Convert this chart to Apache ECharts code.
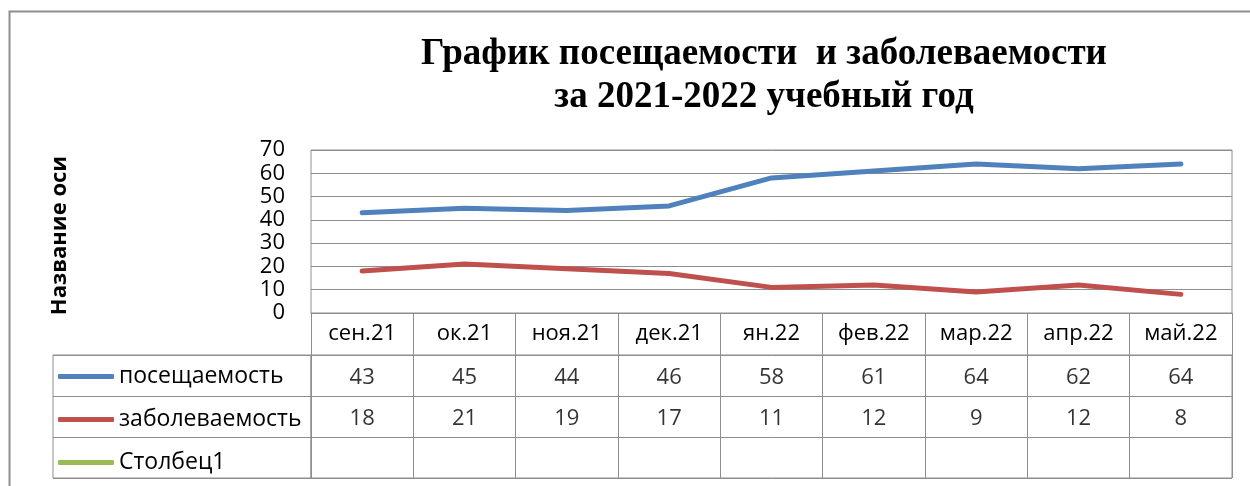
<!DOCTYPE html>
<html>
<head>
<meta charset="utf-8">
<script src="https://cdn.jsdelivr.net/npm/echarts@6/dist/echarts.min.js"></script>
<style>
  html, body { margin: 0; padding: 0; background: #fff; }
  #chart { width: 1250px; height: 486px; }
</style>
</head>
<body>
<div id="chart"></div>
<script>
// данные графика
const months = ['сен.21', 'ок.21', 'ноя.21', 'дек.21', 'ян.22', 'фев.22', 'мар.22', 'апр.22', 'май.22']
const attendance = [43, 45, 44, 46, 58, 61, 64, 62, 64]
const illness = [18, 21, 19, 17, 11, 12, 9, 12, 8]
const column1 = [null, null, null, null, null, null, null, null, null]
const seriesNames = ['посещаемость', 'заболеваемость', 'Столбец1']
const seriesColors = ['#4F81BD', '#C0504D', '#9BBB59']

const gridColor = '#8e8e8e'
const font = 'Open Sans'
const fs = 22

let chart = echarts.init(document.getElementById('chart'))

// ячейки таблицы данных
let cells = []
;[attendance, illness, column1].forEach((row, r) => {
    row.forEach((v, i) => {
        if (v !== null) cells.push([i, r, v])
    })
})

let lineSeries = [attendance, illness, column1].map((row, r) => ({
    name: seriesNames[r],
    type: 'line',
    xAxisIndex: 0,
    yAxisIndex: 0,
    data: row,
    symbol: 'none',
    color: seriesColors[r],
    lineStyle: { width: 5, color: seriesColors[r], cap: 'round', join: 'round' },
}))

let option = {
    animation: false,
    backgroundColor: '#fff',
    textStyle: { fontFamily: font },
    title: {
        text: 'График посещаемости  и заболеваемости\nза 2021-2022 учебный год',
        left: 759,
        top: 28,
        textAlign: 'center',
        textStyle: {
            fontFamily: 'Liberation Serif',
            fontWeight: 'bold',
            fontSize: 37,
            lineHeight: 43,
            color: '#000',
        },
    },
    graphic: [{
        type: 'rect',
        shape: { x: 9.5, y: 11.5, width: 1400, height: 600 },
        style: { fill: 'none', stroke: gridColor, lineWidth: 2 },
        silent: true,
    }],
    legend: {
        orient: 'vertical',
        left: 58,
        top: 365,
        height: 120,
        padding: 0,
        icon: 'roundRect',
        itemWidth: 56,
        itemHeight: 5,
        itemGap: 20,
        data: seriesNames,
        textStyle: { fontFamily: font, fontSize: 23, color: '#000', lineHeight: 20 },
    },
    grid: [
        { left: 311, top: 150, right: 18, height: 163, show: true, borderColor: gridColor, borderWidth: 1 },
        { left: 53, top: 355, width: 258, height: 123, show: true, borderColor: gridColor, borderWidth: 1 },
        { left: 311, top: 355, right: 18, height: 123, show: true, borderColor: gridColor, borderWidth: 1 },
    ],
    xAxis: [
        {
            gridIndex: 0,
            type: 'category',
            data: months,
            boundaryGap: true,
            axisLine: { lineStyle: { color: gridColor } },
            axisTick: { show: true, length: 42, interval: 0, lineStyle: { color: gridColor } },
            axisLabel: { interval: 0, margin: 10, fontSize: fs, color: '#000' },
        },
        { gridIndex: 1, type: 'value', show: false },
        {
            gridIndex: 2,
            type: 'category',
            data: months,
            boundaryGap: true,
            axisLine: { show: false },
            axisTick: { show: false },
            axisLabel: { show: false },
            splitLine: { show: true, interval: 0, lineStyle: { color: gridColor } },
        },
    ],
    yAxis: [
        {
            gridIndex: 0,
            type: 'value',
            min: 0,
            max: 70,
            interval: 10,
            name: 'Название оси',
            nameLocation: 'middle',
            nameGap: 240,
            nameRotate: 90,
            nameTextStyle: { fontFamily: font, fontWeight: 'bold', fontSize: fs, color: '#000', padding: [0, 8, 0, 0] },
            axisLine: { show: false },
            axisTick: { show: false },
            axisLabel: { margin: 26, fontSize: fs, color: '#000', lineHeight: 20 },
            splitLine: { lineStyle: { color: gridColor, width: 1 } },
        },
        {
            gridIndex: 1,
            type: 'category',
            data: seriesNames,
            inverse: true,
            axisLine: { show: false },
            axisTick: { show: false },
            axisLabel: { show: false },
            splitLine: { show: true, interval: 0, lineStyle: { color: gridColor } },
        },
        {
            gridIndex: 2,
            type: 'category',
            data: seriesNames,
            inverse: true,
            axisLine: { show: false },
            axisTick: { show: false },
            axisLabel: { show: false },
            splitLine: { show: true, interval: 0, lineStyle: { color: gridColor } },
        },
    ],
    series: lineSeries.concat([{
        name: 'table',
        type: 'scatter',
        xAxisIndex: 2,
        yAxisIndex: 2,
        symbolSize: 0,
        silent: true,
        data: cells,
        label: {
            show: true,
            position: 'inside',
            offset: [0, 2],
            formatter: p => p.value[2],
            fontFamily: font,
            fontSize: fs,
            color: '#000',
        },
    }]),
}

chart.setOption(option)
</script>
</body>
</html>
